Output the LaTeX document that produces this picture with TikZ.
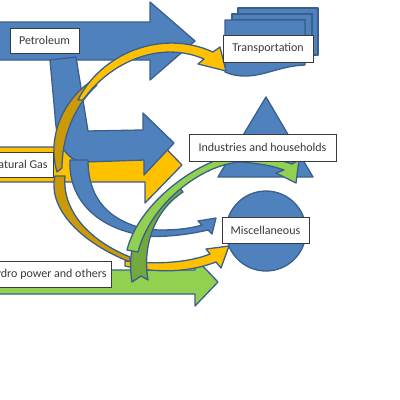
\documentclass[tikz,border=0pt]{standalone}
\usepackage{fontspec}
\setmainfont{Carlito}
\definecolor{blu}{HTML}{4F81BD}
\definecolor{bord}{HTML}{3A5F8F}
\definecolor{yel}{HTML}{FFC000}
\definecolor{ydk}{HTML}{CC9A06}
\definecolor{grn}{HTML}{92D050}
\definecolor{gdk}{HTML}{72A83C}
\definecolor{txt}{HTML}{3A3A3A}
\tikzset{
  shp/.style={draw=bord, line width=1.3pt, line join=round},
  lbl/.style={draw=txt, fill=white, line width=0.9pt, text=txt, font=\fontsize{12}{14}\selectfont, inner sep=0pt},
}
\begin{document}
\begin{tikzpicture}[x=1pt,y=-1pt]
\useasboundingbox (0,0) rectangle (400,400);
\clip (0,0) rectangle (400,400);
% targets
\draw[shp, fill=blu] (238,8) -- (318,8) -- (318,55) -- (312,55) -- (312,14) -- (238,14) -- cycle;
\draw[shp, fill=blu] (232,14) -- (312,14) -- (312,62) -- (305,62) -- (305,20) -- (232,20) -- cycle;
\draw[shp, fill=blu] (225,20) -- (305,20) -- (305,65) .. controls (280,66) and (265,76) .. (245,76) .. controls (235,76) and (230,74) .. (225,72) -- cycle;
\draw[shp, fill=blu] (266,97) -- (313,177) -- (218,177) -- cycle;
\draw[shp, fill=blu] (266,231) circle (40);
% petroleum straight
\draw[shp, fill=blu] (-5,22) -- (150,22) -- (150,2) -- (195,41) -- (150,80) -- (150,60) -- (-5,60) -- cycle;
% natural gas straight
\draw[shp, fill=yel] (-5,147) -- (145,147) -- (145,127) -- (182,165) -- (145,203) -- (145,182) -- (-5,182) -- cycle;
% petroleum bent to industries
\draw[shp, fill=blu] (50,60) -- (76,57) -- (88,131) -- (143,130) -- (143,113) -- (174,143) -- (144,175) -- (144,160) -- (85,162) .. controls (65,162) and (56,140) .. (55,115) -- cycle;
% gas to transportation
\draw[shp, fill=ydk] (93,80) .. controls (62,100) and (47,138) .. (57,172) -- (62,168) .. controls (62,140) and (72,108) .. (97,85) -- cycle;
\draw[shp, fill=yel] (78,100) .. controls (100,55) and (160,28) .. (213,52) -- (220,47) -- (226,71) -- (198,64) -- (204,59) .. controls (160,40) and (110,62) .. (83,100) -- cycle;
% hydro straight
\draw[shp, fill=grn] (-5,270) -- (195,270) -- (195,258) -- (218,282) -- (195,306) -- (195,294) -- (-5,294) -- cycle;
% gas to misc
\draw[shp, fill=ydk] (55,176) .. controls (48,205) and (75,240) .. (130,262) -- (130,257) .. controls (88,240) and (62,210) .. (65,176) -- cycle;
\draw[shp, fill=yel] (125,266) .. controls (165,275) and (195,270) .. (216,262) -- (221,268) -- (229,246) -- (206,249) -- (210,254) .. controls (190,262) and (160,265) .. (125,261) -- cycle;
% petroleum to misc
\draw[shp, fill=blu] (70,160) .. controls (68,205) and (105,232) .. (150,236) -- (150,230) .. controls (110,222) and (88,200) .. (88,160) -- cycle;
\draw[shp, fill=blu] (140,236) .. controls (170,238) and (195,233) .. (208,230) -- (212,234) -- (216,218) -- (198,221) -- (202,225) .. controls (185,230) and (165,231) .. (140,229) -- cycle;
% hydro to industries
\draw[shp, fill=gdk] (132,282) .. controls (125,240) and (145,205) .. (178,186) -- (183,192) .. controls (155,210) and (142,245) .. (148,280) -- (141,276) -- cycle;
\draw[shp, fill=grn] (127,250) .. controls (138,205) and (195,160) .. (240,154) .. controls (262,156) and (280,160) .. (292,164) -- (299,160) -- (296,183) -- (276,173) -- (284,170) .. controls (270,165) and (255,163) .. (240,162) .. controls (200,165) and (150,205) .. (138,252) -- cycle;
% labels
\node[lbl, minimum width=69pt, minimum height=25pt] (pet) at (44.5,40.5) {Petroleum};
\node[lbl, minimum width=90pt, minimum height=27pt] (trl) at (268,48.5) {Transportation};
\node[lbl, minimum width=147pt, minimum height=27pt] (ind) at (262.5,147.5) {Industries and households};
\node[lbl, minimum width=87pt, minimum height=26pt] (mis) at (265.5,230) {Miscellaneous};
\node[lbl, anchor=east, inner xsep=6pt, minimum height=25pt] (ng) at (54,164.5) {Natural Gas};
\node[lbl, anchor=east, inner xsep=5pt, minimum height=26pt] (hy) at (112,274) {Hydro power and others};
\end{tikzpicture}
\end{document}
